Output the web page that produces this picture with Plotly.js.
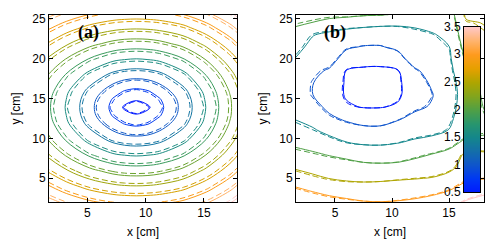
<!DOCTYPE html>
<html><head><meta charset="utf-8">
<script src="https://cdn.plot.ly/plotly-3.0.1.min.js"></script>
<style>html,body{margin:0;padding:0;background:#fff}#chart{width:500px;height:244px}</style>
</head><body><div id="chart"></div>
<script>
// ---------- panel (a) ----------
const xA = [-0.8, 1.2, 3.2, 5.2, 7.2, 8.2, 9.2, 10.2, 11.2, 13.2, 15.2, 17.2, 19.2];
const yA = [-0.1, 1.9, 3.9, 5.9, 7.9, 9.9, 11.9, 12.9, 13.9, 14.9, 15.9, 17.9, 19.9, 21.9, 23.9, 25.9];
const zA_solid = [
  [3.97,3.75,3.58,3.44,3.36,3.34,3.33,3.34,3.36,3.44,3.61,3.83,4.13],
  [3.65,3.41,3.21,3.06,2.96,2.94,2.93,2.94,2.96,3.06,3.24,3.49,3.81],
  [3.36,3.09,2.86,2.68,2.57,2.54,2.53,2.54,2.57,2.68,2.89,3.17,3.52],
  [3.09,2.79,2.53,2.32,2.18,2.14,2.13,2.14,2.18,2.32,2.56,2.87,3.25],
  [2.86,2.53,2.23,1.97,1.79,1.75,1.73,1.75,1.79,1.97,2.26,2.61,3.02],
  [2.68,2.32,1.97,1.66,1.42,1.35,1.33,1.35,1.42,1.66,2.00,2.40,2.84],
  [2.57,2.18,1.79,1.42,1.10,0.98,0.93,0.98,1.10,1.42,1.82,2.26,2.73],
  [2.54,2.14,1.75,1.35,0.98,0.84,0.79,0.84,0.98,1.35,1.78,2.22,2.70],
  [2.53,2.13,1.73,1.33,0.93,0.71,0.53,0.71,0.93,1.33,1.76,2.21,2.69],
  [2.54,2.14,1.75,1.35,0.98,0.84,0.79,0.84,0.98,1.35,1.78,2.22,2.70],
  [2.57,2.18,1.79,1.42,1.10,0.98,0.93,0.98,1.10,1.42,1.82,2.26,2.73],
  [2.68,2.32,1.97,1.66,1.42,1.35,1.33,1.35,1.42,1.66,2.00,2.40,2.84],
  [2.86,2.53,2.23,1.97,1.79,1.75,1.73,1.75,1.79,1.97,2.26,2.61,3.02],
  [3.09,2.79,2.53,2.32,2.18,2.14,2.13,2.14,2.18,2.32,2.56,2.87,3.25],
  [3.36,3.09,2.86,2.68,2.57,2.54,2.53,2.54,2.57,2.68,2.89,3.17,3.52],
  [3.65,3.41,3.21,3.06,2.96,2.94,2.93,2.94,2.96,3.06,3.24,3.49,3.81]
];
const zA_dashed = [
  [4.03,3.81,3.64,3.50,3.42,3.40,3.39,3.40,3.42,3.50,3.67,3.89,4.19],
  [3.71,3.47,3.27,3.12,3.02,3.00,2.99,3.00,3.02,3.12,3.30,3.55,3.87],
  [3.42,3.15,2.92,2.74,2.63,2.60,2.59,2.60,2.63,2.74,2.95,3.23,3.58],
  [3.15,2.85,2.59,2.38,2.24,2.20,2.19,2.20,2.24,2.38,2.62,2.93,3.31],
  [2.92,2.59,2.29,2.03,1.85,1.81,1.79,1.81,1.85,2.03,2.32,2.67,3.08],
  [2.74,2.38,2.03,1.70,1.46,1.39,1.37,1.39,1.46,1.70,2.06,2.46,2.90],
  [2.63,2.24,1.85,1.46,1.14,1.02,0.95,1.02,1.14,1.46,1.88,2.32,2.79],
  [2.60,2.20,1.81,1.39,1.02,0.86,0.81,0.86,1.02,1.39,1.84,2.28,2.76],
  [2.59,2.19,1.77,1.37,0.95,0.73,0.55,0.73,0.95,1.37,1.80,2.27,2.75],
  [2.60,2.20,1.81,1.39,1.02,0.86,0.81,0.86,1.02,1.39,1.84,2.28,2.76],
  [2.63,2.24,1.85,1.46,1.14,1.02,0.95,1.02,1.14,1.46,1.88,2.32,2.79],
  [2.74,2.38,2.03,1.70,1.46,1.39,1.37,1.39,1.46,1.70,2.06,2.46,2.90],
  [2.92,2.59,2.29,2.03,1.85,1.81,1.79,1.81,1.85,2.03,2.32,2.67,3.08],
  [3.15,2.85,2.59,2.38,2.24,2.20,2.19,2.20,2.24,2.38,2.62,2.93,3.31],
  [3.42,3.15,2.92,2.74,2.63,2.60,2.59,2.60,2.63,2.74,2.95,3.23,3.58],
  [3.71,3.47,3.27,3.12,3.02,3.00,2.99,3.00,3.02,3.12,3.30,3.55,3.87]
];
const levelsA = {start: 0.75, end: 3.5, size: 0.25};

// ---------- panel (b) ----------
const xB = [1.5, 3, 4.5, 6, 7.5, 9, 10.5, 12, 13.5, 15, 16.5, 18.2];
const yB = [1.9, 3.5, 5, 6.5, 8, 9.5, 11, 12.5, 14, 15.5, 17, 18.5, 20, 21.5, 23, 24.5, 25.6];
const zB_solid = [
  [3.35,3.35,3.20,3.12,3.05,3.03,3.05,3.10,3.20,3.30,3.58,3.72],
  [3.10,2.96,2.85,2.78,2.72,2.72,2.76,2.80,2.86,2.99,3.18,3.38],
  [2.75,2.60,2.49,2.42,2.40,2.42,2.45,2.48,2.52,2.65,2.92,2.98],
  [2.42,2.33,2.25,2.20,2.10,2.08,2.10,2.18,2.25,2.36,2.68,2.78],
  [2.15,2.07,1.97,1.87,1.80,1.78,1.80,1.90,2.01,2.13,2.60,2.60],
  [1.90,1.80,1.66,1.51,1.43,1.42,1.48,1.57,1.65,1.84,2.10,2.12],
  [1.68,1.56,1.38,1.22,1.14,1.13,1.25,1.33,1.38,1.51,1.80,1.93],
  [1.48,1.35,1.09,0.93,0.80,0.80,0.95,1.13,1.20,1.43,1.70,1.95],
  [1.38,1.17,0.88,0.56,0.47,0.47,0.55,0.90,1.04,1.38,1.66,2.05],
  [1.32,1.01,0.78,0.45,0.36,0.35,0.42,0.76,0.97,1.36,1.64,2.12],
  [1.32,1.02,0.80,0.45,0.35,0.34,0.42,0.76,1.07,1.37,1.68,2.18],
  [1.38,1.13,0.94,0.49,0.42,0.41,0.47,0.92,1.20,1.39,1.82,2.25],
  [1.49,1.27,1.22,0.78,0.68,0.67,0.80,1.25,1.30,1.42,2.04,2.30],
  [1.68,1.36,1.30,1.07,0.97,0.97,1.10,1.33,1.38,1.49,2.18,2.37],
  [1.87,1.53,1.36,1.30,1.30,1.25,1.30,1.40,1.46,1.60,2.30,2.45],
  [2.06,1.99,1.90,1.72,1.62,1.60,1.57,1.57,1.66,1.68,2.44,2.52],
  [2.20,2.15,2.10,2.15,2.08,2.05,1.97,1.80,1.85,1.75,2.58,2.70]
];
const zB_dashed = [
  [3.31,3.31,3.17,3.10,3.05,3.03,3.06,3.12,3.22,3.32,3.61,3.75],
  [3.06,2.92,2.82,2.76,2.72,2.72,2.77,2.82,2.88,3.01,3.21,3.41],
  [2.71,2.56,2.46,2.40,2.40,2.42,2.46,2.50,2.54,2.67,2.95,3.01],
  [2.38,2.29,2.22,2.18,2.10,2.08,2.11,2.20,2.27,2.38,2.71,2.81],
  [2.11,2.03,1.94,1.85,1.80,1.78,1.81,1.92,2.03,2.15,2.63,2.63],
  [1.86,1.76,1.63,1.49,1.43,1.42,1.49,1.59,1.67,1.86,2.13,2.15],
  [1.64,1.52,1.35,1.20,1.14,1.13,1.26,1.35,1.40,1.53,1.83,1.96],
  [1.44,1.31,1.06,0.91,0.80,0.80,0.96,1.15,1.22,1.45,1.73,1.98],
  [1.34,1.13,0.85,0.54,0.47,0.47,0.56,0.92,1.06,1.40,1.69,2.08],
  [1.28,0.97,0.75,0.43,0.36,0.35,0.43,0.78,0.99,1.38,1.67,2.15],
  [1.28,0.98,0.77,0.43,0.35,0.34,0.43,0.78,1.09,1.39,1.71,2.21],
  [1.34,1.09,0.91,0.47,0.42,0.41,0.48,0.94,1.22,1.41,1.85,2.28],
  [1.45,1.23,1.19,0.76,0.68,0.67,0.81,1.27,1.32,1.44,2.07,2.33],
  [1.64,1.32,1.27,1.05,0.97,0.97,1.11,1.35,1.40,1.51,2.21,2.40],
  [1.83,1.49,1.33,1.28,1.30,1.25,1.31,1.42,1.48,1.62,2.33,2.48],
  [2.02,1.95,1.87,1.70,1.62,1.60,1.58,1.59,1.68,1.70,2.47,2.55],
  [2.16,2.11,2.07,2.13,2.08,2.05,1.98,1.82,1.87,1.77,2.61,2.73]
];
const levelsB = {start: 0.5, end: 3.5, size: 0.5};

// ---------- colour scale / colourbar ----------
const cRange = [0.5, 3.5];
const cbTicks = [0.5, 1, 1.5, 2, 2.5, 3, 3.5];
const cbX = [0, 1];
const cbZ = [[0.5, 0.5], [3.5, 3.5]];
const cscale = [
  [0.000, 'rgb(0,25,255)'],
  [0.083, 'rgb(0,55,245)'],
  [0.167, 'rgb(15,85,205)'],
  [0.250, 'rgb(20,110,170)'],
  [0.333, 'rgb(20,135,140)'],
  [0.417, 'rgb(40,150,110)'],
  [0.500, 'rgb(80,160,70)'],
  [0.583, 'rgb(130,165,30)'],
  [0.667, 'rgb(175,165,0)'],
  [0.750, 'rgb(230,160,0)'],
  [0.833, 'rgb(255,155,30)'],
  [0.917, 'rgb(255,180,110)'],
  [1.000, 'rgb(255,200,200)']
];

const FONT = '"Liberation Sans", Arial, sans-serif';
const SERIF = '"Liberation Serif", "Times New Roman", serif';

function contourTrace(x, y, z, lv, dash, xa, ya) {
  return {
    type: 'contour', x: x, y: y, z: z, xaxis: xa, yaxis: ya,
    autocontour: false,
    contours: {start: lv.start, end: lv.end, size: lv.size, coloring: 'lines'},
    colorscale: cscale, zmin: cRange[0], zmax: cRange[1], showscale: false,
    line: {width: 1, dash: dash, smoothing: 1},
    hoverinfo: 'skip'
  };
}

const traces = [
  contourTrace(xA, yA, zA_solid, levelsA, 'solid', 'x', 'y'),
  contourTrace(xA, yA, zA_dashed, levelsA, '6px,3px', 'x', 'y'),
  contourTrace(xB, yB, zB_solid, levelsB, 'solid', 'x2', 'y2'),
  contourTrace(xB, yB, zB_dashed, levelsB, '6px,3px', 'x2', 'y2'),
  {type: 'heatmap', x: cbX, y: cRange, z: cbZ, xaxis: 'x3', yaxis: 'y3',
   zsmooth: 'best', colorscale: cscale, zmin: cRange[0], zmax: cRange[1],
   showscale: false, hoverinfo: 'skip'}
];

const ax = {
  showline: true, linecolor: '#000', linewidth: 1, mirror: 'ticks',
  ticks: 'inside', ticklen: 4, tickwidth: 1, tickcolor: '#000',
  showgrid: false, zeroline: false,
  tickfont: {family: FONT, size: 12, color: '#000'}
};
const yDom = [0.172, 0.9385];
const titleFont = {family: FONT, size: 12, color: '#000'};

const layout = {
  width: 500, height: 244,
  margin: {l: 0, r: 0, t: 0, b: 0},
  paper_bgcolor: '#fff', plot_bgcolor: '#fff',
  showlegend: false,
  xaxis: Object.assign({}, ax, {domain: [0.098, 0.474], range: [1.72, 17.83], tickvals: [5, 10, 15], anchor: 'y',
    title: {text: 'x [cm]', font: titleFont, standoff: 8}}),
  yaxis: Object.assign({}, ax, {domain: yDom, range: [2.02, 25.5], tickvals: [5, 10, 15, 20, 25], anchor: 'x',
    title: {text: 'y [cm]', font: titleFont, standoff: 9}}),
  xaxis2: Object.assign({}, ax, {domain: [0.592, 0.968], range: [1.58, 18.07], tickvals: [5, 10, 15], anchor: 'y2',
    title: {text: 'x [cm]', font: titleFont, standoff: 8}}),
  yaxis2: Object.assign({}, ax, {domain: yDom, range: [2.02, 25.5], tickvals: [5, 10, 15, 20, 25], anchor: 'x2',
    title: {text: 'y [cm]', font: titleFont, standoff: 9}}),
  xaxis3: {domain: [0.928, 0.96], range: [0, 1], anchor: 'y3', showticklabels: false, ticks: '',
    showline: true, mirror: true, linecolor: '#000', linewidth: 1, showgrid: false, zeroline: false},
  yaxis3: {domain: [0.2119, 0.8906], range: cRange, anchor: 'x3', side: 'left', tickvals: cbTicks, ticks: '',
    showline: true, mirror: true, linecolor: '#000', linewidth: 1, showgrid: false, zeroline: false,
    tickfont: {family: FONT, size: 12, color: '#000'}},
  annotations: [
    {text: '<b>(a)</b>', xref: 'x domain', yref: 'y domain', x: 0.145, y: 0.905, xanchor: 'left', yanchor: 'middle',
     showarrow: false, font: {family: SERIF, size: 18, color: '#000'}},
    {text: '<b>(b)</b>', xref: 'x2 domain', yref: 'y2 domain', x: 0.14, y: 0.905, xanchor: 'left', yanchor: 'middle',
     showarrow: false, font: {family: SERIF, size: 18, color: '#000'}}
  ]
};

Plotly.newPlot('chart', traces, layout, {staticPlot: true, displayModeBar: false});
</script></body></html>
